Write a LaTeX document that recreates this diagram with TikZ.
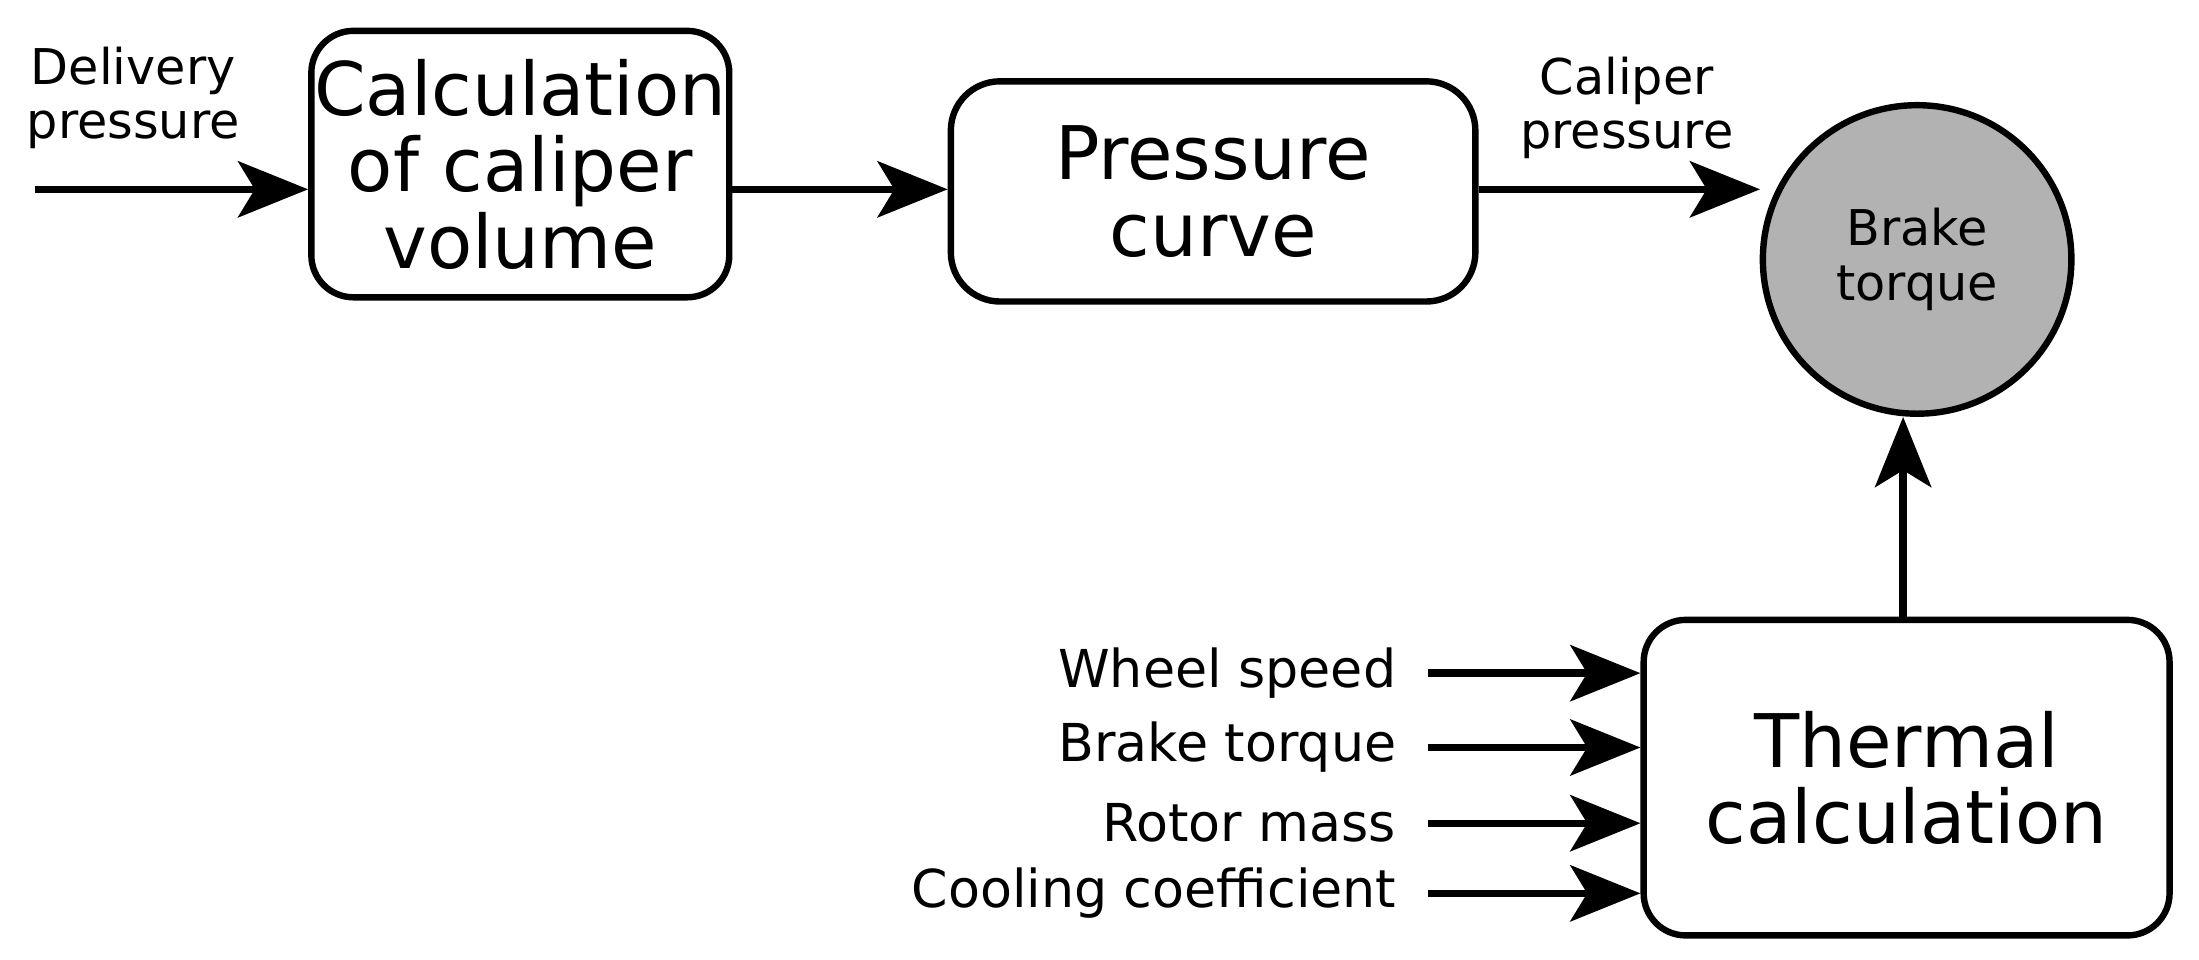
\documentclass[tikz,border=0pt]{standalone}
\usepackage{fontspec}
\setmainfont{DejaVu Sans}
\usetikzlibrary{arrows.meta}
\begin{document}
\begin{tikzpicture}[
  box/.style={draw,line width=1.3pt,rounded corners=0.3cm,align=center,inner sep=0pt},
  big/.style={font=\fontsize{15}{15.5}\selectfont},
  small/.style={font=\fontsize{10}{11}\selectfont,align=center},
  arr/.style={line width=1.5pt,-{Stealth[length=5mm,width=4mm,inset=1.2mm]}}]
\useasboundingbox (0,0) rectangle (15.68,6.84);
\node[box,big,minimum width=2.98cm,minimum height=1.90cm] (b1) at (3.71,5.67) {Calculation\\of caliper\\volume};
\node[box,big,minimum width=3.74cm,minimum height=1.57cm,rounded corners=0.35cm] (b2) at (8.65,5.475) {Pressure\\curve};
\node[draw,circle,line width=1.3pt,fill=black!30,minimum size=2.2cm,small] (c) at (13.67,4.99) {Brake\\torque};
\node[box,big,minimum width=3.75cm,minimum height=2.25cm] (b3) at (13.595,1.295) {Thermal\\calculation};
\coordinate (in) at (0.25,5.49);
\draw[arr] (in) -- (b1.west |- in);
\node[small] (l1) at (0.95,6.14) {Delivery\\pressure};
\draw[arr] (b1.east |- in) -- (b2.west |- in);
\draw[arr] (b2.east |- in) -- (12.55,5.49);
\node[small] (l2) at (11.60,6.07) {Caliper\\pressure};
\draw[arr] (b3.north -| 13.57,0) -- (c.south -| 13.57,0);
\foreach \y/\t/\n in {4.80/Wheel speed/w,5.33/Brake torque/t,5.87/Rotor mass/r,6.37/Cooling coefficient/k}{
  \node[anchor=east,font=\fontsize{10.6}{12}\selectfont] (\n) at (10.08,6.84-\y+0.0) {\t};
  \draw[arr] (10.18,6.84-\y) -- (b3.west |- {(0,6.84-\y)});
}
\end{tikzpicture}
\end{document}
